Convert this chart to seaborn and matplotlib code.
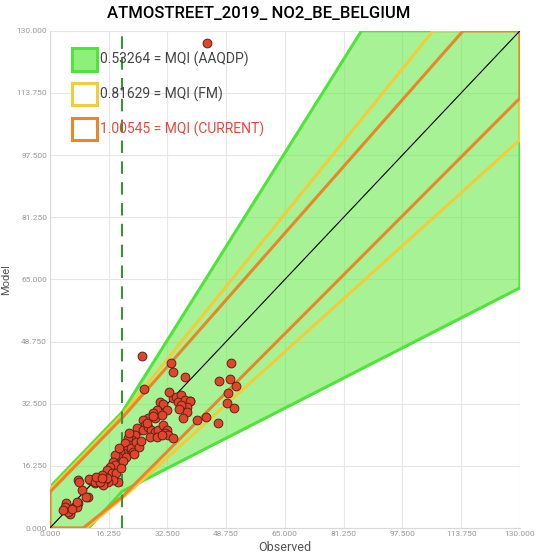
import matplotlib
matplotlib.use('Agg')
import matplotlib.pyplot as plt
from matplotlib.patches import Patch
from matplotlib.ticker import FixedLocator, FormatStrFormatter
import pandas as pd
import seaborn as sns
import numpy as np

# axis range and ticks
AXIS_MAX = 130.0
ticks = [0, 16.25, 32.5, 48.75, 65, 81.25, 97.5, 113.75, 130]
limit_value = 20.0

# band outlines (vertices)
green_x = [0, 0, 20, 86.2, 130, 130, 20, 10.7]
green_y = [0, 10.7, 30.3, 130, 130, 62.8, 9.6, 0]
yellow_x = [0, 0, 20, 106, 130, 130, 20, 10]
yellow_y = [0, 10, 29.6, 130, 130, 101.5, 7.8, 0]
orange_x = [0, 0, 20, 114.3, 130, 130, 20, 9.2]
orange_y = [0, 9.4, 28.8, 130, 130, 112.4, 8.2, 0]

mqi_labels = ['0.53264 = MQI (AAQDP)', '0.81629 = MQI (FM)', '1.00545 = MQI (CURRENT)']

# stations: observed / model
observed = [43.4, 25.4, 33.4, 34.1, 37.5, 26.0, 50.1, 46.8, 49.8, 51.5, 49.3, 48.9,
            51.0, 46.6, 43.2, 40.6, 38.7, 34.1, 35.0, 36.4, 35.5, 37.3, 38.7, 37.8,
            36.4, 37.8, 36.7, 30.4, 31.3, 29.5, 32.3, 28.6, 29.0, 30.9, 27.2, 25.8,
            26.3, 24.9, 24.0, 23.5, 25.8, 27.2, 28.1, 29.0, 30.0, 31.3, 32.3, 31.8,
            32.7, 34.1, 27.7, 29.5, 30.9, 22.6, 21.7, 22.1, 20.7, 21.2, 20.3, 19.4,
            18.9, 18.0, 17.5, 19.8, 18.0, 16.6, 15.7, 16.1, 17.1, 18.4, 18.9, 17.5,
            16.1, 15.2, 13.8, 12.9, 12.4, 14.7, 15.7, 14.3, 10.6, 9.0, 7.8, 11.1,
            7.8, 7.4, 5.1, 4.6, 4.1, 5.5, 5.1, 3.7, 6.0, 7.6, 10.1, 8.1, 10.9,
            12.4, 13.8, 12.9, 14.3, 19.0, 21.0, 22.5, 23.8, 20.2, 22.9, 24.6, 26.8,
            28.4, 19.6, 21.9, 23.2, 25.1, 33.0, 35.8]
model = [126.9, 45.1, 43.1, 40.9, 39.5, 36.3, 43.1, 38.5, 38.9, 37.1, 35.3, 32.6,
         31.3, 27.6, 29.0, 28.3, 33.3, 33.9, 34.3, 34.8, 33.0, 33.5, 33.2, 31.7,
         32.2, 30.4, 28.7, 33.0, 32.4, 30.9, 30.9, 30.0, 28.7, 29.6, 28.7, 28.3,
         26.9, 25.6, 26.1, 24.3, 25.6, 26.5, 25.6, 25.2, 25.6, 26.9, 25.6, 24.8,
         24.3, 23.5, 23.9, 23.9, 24.3, 23.0, 23.5, 21.7, 22.2, 20.4, 19.5, 20.0,
         18.7, 19.1, 17.3, 16.9, 16.5, 16.0, 15.2, 13.4, 14.3, 14.3, 12.1, 12.6,
         12.1, 12.6, 13.0, 12.6, 11.7, 11.2, 13.0, 13.9, 8.2, 9.9, 12.6, 12.6,
         6.5, 5.6, 5.1, 6.5, 5.6, 3.8, 4.3, 4.7, 5.1, 6.9, 8.2, 12.1, 12.7,
         12.1, 12.1, 13.3, 13.0, 21.0, 18.5, 20.9, 22.4, 17.6, 19.9, 21.2, 27.5,
         29.4, 15.8, 24.8, 19.3, 22.7, 35.6, 31.2]


def main():
    df = pd.DataFrame({'Observed': observed, 'Model': model})

    sns.set_theme(style='whitegrid')
    plt.rcParams['font.family'] = ['Roboto', 'DejaVu Sans']

    fig = plt.figure(figsize=(5.36, 5.6), dpi=100)
    ax = fig.add_axes([0.093, 0.057, 0.877, 0.888])

    green_edge = '#4ee43a'
    yellow_edge = '#f2cc3a'
    orange_edge = '#e8862a'

    ax.fill(green_x, green_y, facecolor='#69ea4a', alpha=0.58, edgecolor='none', zorder=1)
    ax.fill(green_x, green_y, fill=False, edgecolor=green_edge, lw=2.2, zorder=2)
    ax.fill(yellow_x, yellow_y, fill=False, edgecolor=yellow_edge, lw=2.2, zorder=3)
    ax.fill(orange_x, orange_y, fill=False, edgecolor=orange_edge, lw=2.2, zorder=4)

    ax.axline((0, 0), slope=1, color='black', lw=0.8, zorder=5)
    ax.axvline(limit_value, color='#3f8f3f', lw=1.5, dashes=(6, 4), zorder=5)

    sns.scatterplot(data=df, x='Observed', y='Model', ax=ax, color='#e2452c',
                    edgecolor='#5a2418', linewidth=0.7, s=40, zorder=6, clip_on=False)

    ax.set_xlim(0, AXIS_MAX)
    ax.set_ylim(0, AXIS_MAX)
    ax.xaxis.set_major_locator(FixedLocator(ticks))
    ax.yaxis.set_major_locator(FixedLocator(ticks))
    ax.xaxis.set_major_formatter(FormatStrFormatter('%.3f'))
    ax.yaxis.set_major_formatter(FormatStrFormatter('%.3f'))
    ax.tick_params(labelsize=6, colors='#999999', length=0, pad=2)
    ax.grid(True, color='#e6e6e6', lw=0.8)
    ax.set_axisbelow(True)
    for side in ['top', 'right']:
        ax.spines[side].set_visible(False)
    for side in ['left', 'bottom']:
        ax.spines[side].set_color('#d8d8d8')
        ax.spines[side].set_linewidth(0.8)

    ax.set_xlabel('Observed', fontsize=9, color='#555555', labelpad=3)
    ax.set_ylabel('Model', fontsize=8, color='#555555', labelpad=4)
    fig.text(0.482, 0.975, 'ATMOSTREET_2019_ NO2_BE_BELGIUM', fontsize=12,
             fontweight='medium', color='black', ha='center', va='center')

    handles = [Patch(facecolor='#8ef07a', edgecolor=green_edge, lw=2.2),
               Patch(facecolor='white', edgecolor=yellow_edge, lw=2.2),
               Patch(facecolor='white', edgecolor=orange_edge, lw=2.2)]
    leg = ax.legend(handles, mqi_labels, loc='upper left', bbox_to_anchor=(0.047, 0.965),
                    frameon=False, fontsize=10, handlelength=1.8, handleheight=2.1,
                    handletextpad=0.25, labelspacing=0.9, borderaxespad=0, borderpad=0)
    text_colors = ['#444444', '#444444', '#e8483a']
    for txt, c in zip(leg.get_texts(), text_colors):
        txt.set_color(c)

    fig.savefig('out.png', dpi=100)


if __name__ == '__main__':
    main()
